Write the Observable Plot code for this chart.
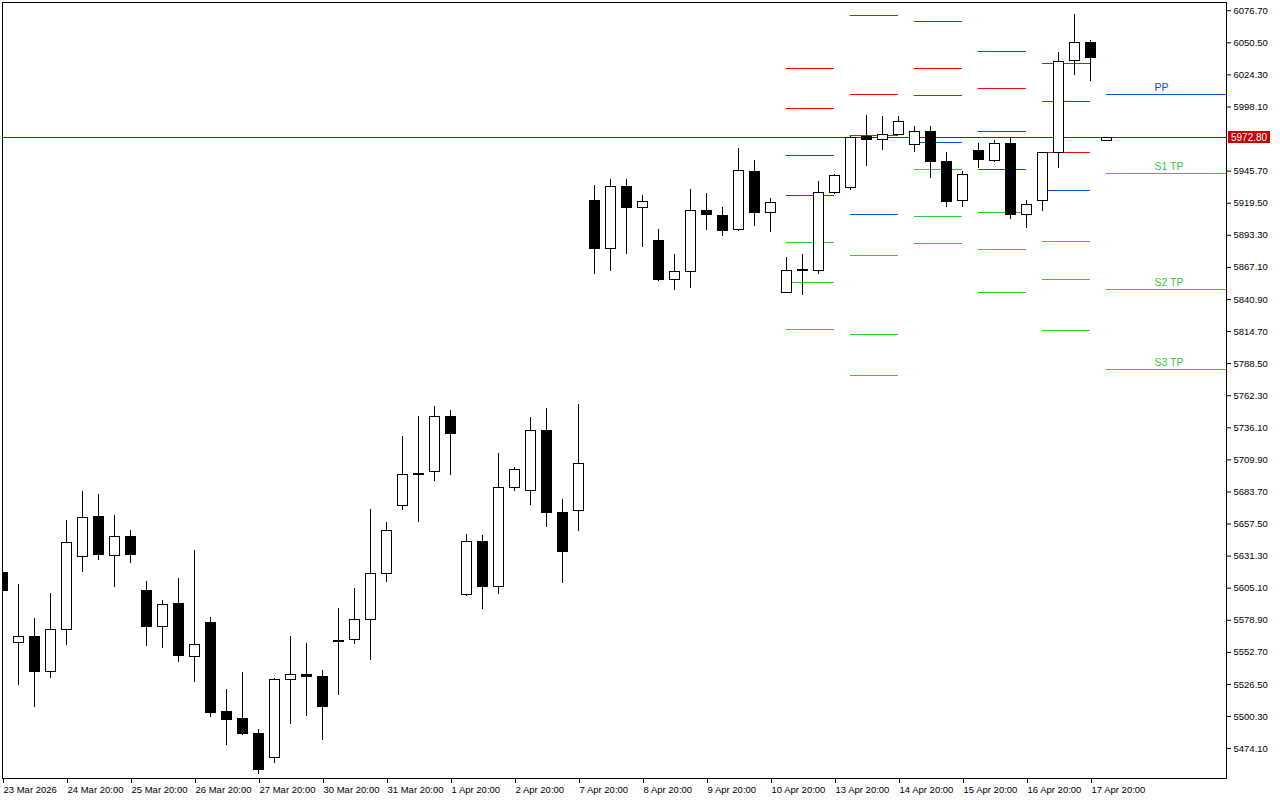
<!DOCTYPE html>
<html>
<head>
<meta charset="utf-8">
<script src="https://cdn.jsdelivr.net/npm/d3@7"></script>
<script src="https://cdn.jsdelivr.net/npm/@observablehq/plot@0.6"></script>
<style>
  html, body { margin: 0; padding: 0; background: #ffffff; }
  #chart { width: 1280px; height: 800px; }
</style>
</head>
<body>
<div id="chart"></div>
<script>
// ---- Candles (one per bar index) ----
const openP  = [5617.7,5560.2,5565.6,5536.5,5571.1,5630.7,5663.6,5631.2,5647.3,5603.2,
                5573.6,5592.6,5549.1,5576.3,5503.6,5497.9,5486.4,5466.6,5530.3,5534.4,
                5532.7,5562.2,5562.4,5579.3,5616.8,5672.4,5697.7,5700.1,5745.0,5599.7,
                5643.0,5606.2,5687.1,5684.6,5733.6,5666.7,5668.3,5921.4,5882.2,5932.9,
                5915.7,5889.0,5856.9,5863.5,5913.3,5909.2,5897.4,5945.1,5911.6,5846.3,
                5864.0,5864.3,5928.0,5931.7,5973.9,5970.9,5975.0,5967.2,5977.8,5953.3,
                5921.1,5962.3,5953.8,5968.0,5910.0,5921.1,5960.6,6035.4,6050.5,5970.4];
const highP  = [5619.0,5608.1,5580.3,5600.8,5660.4,5684.1,5681.6,5664.5,5652.2,5610.6,
                5595.0,5613.0,5635.9,5581.2,5522.4,5536.2,5489.7,5531.3,5565.6,5559.9,
                5537.9,5588.5,5604.8,5669.3,5658.7,5729.0,5745.3,5753.5,5750.2,5648.9,
                5647.9,5715.1,5703.4,5744.2,5751.8,5677.3,5755.1,5933.9,5938.8,5938.8,
                5925.8,5898.0,5877.6,5930.7,5927.4,5916.0,5964.1,5954.3,5923.3,5875.1,
                5877.6,5937.2,5942.9,5973.9,5991.1,5990.3,5990.3,5982.1,5982.1,5960.9,
                5945.1,5968.2,5970.7,5972.9,5921.7,5960.6,6042.3,6073.6,6052.1,5973.1];
const lowP   = [5601.5,5525.9,5507.9,5531.6,5558.5,5618.2,5627.7,5605.9,5625.5,5557.7,
                5556.1,5544.7,5528.3,5499.7,5476.9,5484.8,5453.2,5462.2,5494.0,5500.6,
                5481.0,5517.7,5559.1,5546.0,5609.7,5668.5,5658.7,5692.5,5697.1,5598.6,
                5587.9,5599.7,5684.3,5672.9,5654.4,5609.2,5651.6,5861.5,5864.0,5877.8,
                5883.5,5855.8,5848.4,5850.1,5897.4,5892.5,5896.6,5900.7,5895.8,5845.7,
                5844.3,5861.5,5926.6,5930.1,5949.7,5962.8,5975.0,5961.1,5939.9,5916.2,
                5916.2,5948.1,5953.0,5906.4,5899.1,5912.9,5948.1,6024.0,6019.1,5970.4];
const closeP = [5602.6,5565.4,5536.5,5571.1,5642.2,5662.6,5632.0,5647.1,5632.0,5573.2,
                5591.5,5549.6,5558.9,5503.0,5497.3,5485.9,5456.5,5530.3,5534.4,5532.4,
                5507.9,5561.4,5579.3,5616.8,5652.0,5697.7,5698.5,5745.0,5730.8,5643.0,
                5605.9,5687.1,5701.8,5733.6,5666.3,5634.5,5706.7,5882.2,5932.9,5915.4,
                5920.6,5856.6,5863.5,5913.3,5910.0,5896.9,5945.9,5911.6,5919.8,5864.3,
                5864.8,5928.0,5941.9,5973.1,5970.9,5975.3,5985.9,5977.8,5953.0,5920.3,
                5942.7,5954.6,5968.0,5909.7,5918.2,5960.6,6034.9,6050.5,6037.9,5972.8];

// ---- Time axis labels (every 4th bar) ----
const xTickIndex = [0,4,8,12,16,20,24,28,32,36,40,44,48,52,56,60,64,68];
const xTickLabels = ["23 Mar 2026","24 Mar 20:00","25 Mar 20:00","26 Mar 20:00","27 Mar 20:00",
  "30 Mar 20:00","31 Mar 20:00","1 Apr 20:00","2 Apr 20:00","7 Apr 20:00","8 Apr 20:00",
  "9 Apr 20:00","10 Apr 20:00","13 Apr 20:00","14 Apr 20:00","15 Apr 20:00","16 Apr 20:00","17 Apr 20:00"];

// ---- Price axis ticks ----
const yTicks = [6076.70,6050.50,6024.30,5998.10,5945.70,5919.50,5893.30,5867.10,5840.90,
  5814.70,5788.50,5762.30,5736.10,5709.90,5683.70,5657.50,5631.30,5605.10,5578.90,5552.70,
  5526.50,5500.30,5474.10];

// ---- Pivot point levels, per daily segment ----
const segStart = [49, 53, 57, 61, 65, 69];
const segEnd   = [52, 56, 60, 64, 68, 76.5];
const r3 = [6029.2, 6072.5, 6067.6, 6043.1, 6033.3, null];
const r2 = [5996.6, 6008.0, 6029.2, 6012.9, 6002.3, null];
const r1 = [5958.2, 5974.5, 6007.2, 5977.8, 5960.6, null];
const pp = [5925.5, 5910.0, 5968.8, 5946.8, 5929.6, 6008.0];
const s1 = [5887.1, 5876.5, 5946.8, 5911.6, 5888.0, 5943.5];
const s2 = [5854.5, 5812.0, 5908.4, 5881.4, 5856.9, 5848.8];
const s3 = [5816.1, 5778.5, 5886.3, 5846.3, 5815.3, 5783.4];
const lastLevelNames = ["PP", "S1 TP", "S2 TP", "S3 TP"];

const currentPrice = 5972.80;

// ---- Colours ----
const RED = "#ff0000", BLUE = "#0050d8", GREEN = "#32cd32", PRICE_RED = "#b40000";

// ---- Build tables ----
const candles = openP.map((o, i) => ({i, open: o, high: highP[i], low: lowP[i], close: closeP[i]}));
const levelDefs = [[r3, RED], [r2, RED], [r1, RED], [pp, BLUE], [s1, GREEN], [s2, GREEN], [s3, GREEN]];
const pivotRows = segStart.flatMap((s, k) =>
  levelDefs.filter(([arr]) => arr[k] != null).map(([arr, color]) => ({x1: s, x2: segEnd[k], y: arr[k], color})));
const last = segStart.length - 1;
const labelRows = [[pp, BLUE], [s1, GREEN], [s2, GREEN], [s3, GREEN]].map(([arr, color], j) =>
  ({x: segStart[last] + 3, y: arr[last], text: lastLevelNames[j], color}));
const labelMap = new Map(xTickIndex.map((v, j) => [v, xTickLabels[j]]));
const halfBody = 0.3125;
const crisp = "crispEdges";

const chart = Plot.plot({
  width: 1280,
  height: 800,
  marginLeft: 2,
  marginRight: 54,
  marginTop: 2,
  marginBottom: 22,
  style: {fontFamily: "'Liberation Sans', Arial, sans-serif", fontSize: "9.5px", background: "white", color: "black"},
  x: {domain: [0, 76.5]},
  y: {domain: [5449.7, 6083.4]},
  color: {type: "identity"},
  marks: [
    Plot.ruleY([currentPrice], {stroke: PRICE_RED, strokeWidth: 1, clip: true, shapeRendering: crisp}),
    Plot.ruleY(pivotRows, {x1: "x1", x2: "x2", y: "y", stroke: "color", strokeWidth: 1, clip: true, shapeRendering: crisp}),
    Plot.text(labelRows, {x: "x", y: "y", text: "text", fill: "color", dy: -7, textAnchor: "start", fontSize: 10.5}),
    Plot.ruleX(candles, {x: "i", y1: "low", y2: "high", stroke: "black", strokeWidth: 1, clip: true, shapeRendering: crisp}),
    Plot.rect(candles, {
      x1: d => d.i - halfBody, x2: d => d.i + halfBody,
      y1: "open", y2: "close",
      fill: d => d.close >= d.open ? "white" : "black",
      stroke: "black", strokeWidth: 1, clip: true, shapeRendering: crisp
    }),
    Plot.axisY(yTicks, {anchor: "right", tickSize: 4, tickPadding: 3, tickFormat: d => d.toFixed(2), fontSize: 9.5, label: null}),
    Plot.axisX(xTickIndex, {anchor: "bottom", tickSize: 5, tickPadding: 3, tickFormat: d => labelMap.get(d), textAnchor: "start", dx: 1, fontSize: 9.5, label: null}),
    Plot.frame({stroke: "black", shapeRendering: crisp})
  ]
});

document.getElementById("chart").appendChild(chart);

// current price label box on the price axis, placed through the chart's own scales
const ys = chart.scale("y"), xs = chart.scale("x");
const py = Math.round(ys.apply(currentPrice));
const px = xs.range[1];
const svg = d3.select(chart);
const g = svg.append("g").attr("text-anchor", "start");
g.append("rect").attr("x", px + 2).attr("y", py - 6).attr("width", 42).attr("height", 12).attr("fill", "#cc0000");
g.append("text").attr("x", px + 5).attr("y", py + 4)
  .attr("text-anchor", "start")
  .attr("fill", "white").attr("font-size", "10px").attr("font-family", "'Liberation Sans', Arial, sans-serif")
  .text(currentPrice.toFixed(2));
</script>
</body>
</html>
